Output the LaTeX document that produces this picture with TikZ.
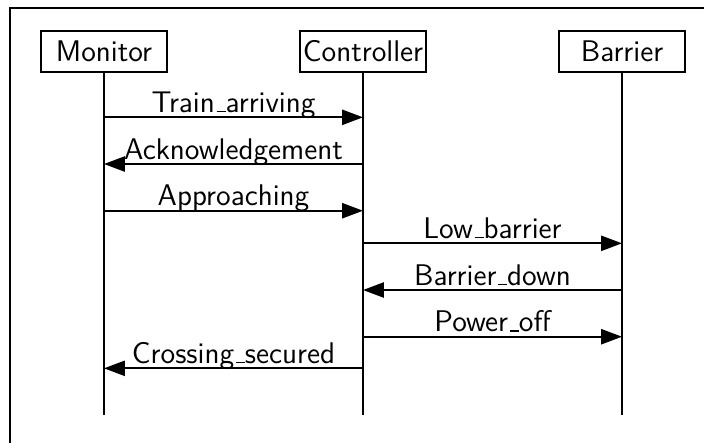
\documentclass[tikz,border=0pt]{standalone}
\usetikzlibrary{arrows.meta}
\newcommand\usc{\leavevmode\kern.06em\vbox{\hrule width.3em height 0.6pt}}
\begin{document}
\begin{tikzpicture}[x=0.385pt,y=-0.385pt,
  every node/.style={font=\sffamily\fontsize{11.5}{13}\selectfont},
  actor/.style={draw,line width=0.75pt,minimum width=48.5pt,minimum height=15.8pt,inner sep=1pt},
  life/.style={line width=0.75pt},
  msg/.style={line width=0.75pt,-{Triangle[length=8pt,width=5.8pt]}},
  lbl/.style={anchor=base,yshift=1.9pt,inner sep=0pt}]
\useasboundingbox (0,0) rectangle (704,443);
\draw[line width=0.75pt] (10,443) -- (10,8) -- (704,8);
\node[actor] (mon) at (104,51.5) {Monitor};
\node[actor] (con) at (363,51.5) {Controller};
\node[actor] (bar) at (622,51.5) {Barrier};
\coordinate (monE) at (104,415);
\coordinate (conE) at (363,415);
\coordinate (barE) at (622,415);
\draw[life] (mon.south) -- (monE);
\draw[life] (con.south) -- (conE);
\draw[life] (bar.south) -- (barE);
\draw[msg] (mon.south |- 0,117.3) -- node[lbl]{Train\usc arriving} (con.south |- 0,117.3);
\draw[msg] (con.south |- 0,164) -- node[lbl]{Acknowledgement} (mon.south |- 0,164);
\draw[msg] (mon.south |- 0,210.7) -- node[lbl]{Approaching} (con.south |- 0,210.7);
\draw[msg] (con.south |- 0,243.3) -- node[lbl]{Low\usc barrier} (bar.south |- 0,243.3);
\draw[msg] (bar.south |- 0,290) -- node[lbl]{Barrier\usc down} (con.south |- 0,290);
\draw[msg] (con.south |- 0,336.7) -- node[lbl]{Power\usc off} (bar.south |- 0,336.7);
\draw[msg] (con.south |- 0,368.3) -- node[lbl]{Crossing\usc secured} (mon.south |- 0,368.3);
\end{tikzpicture}
\end{document}
